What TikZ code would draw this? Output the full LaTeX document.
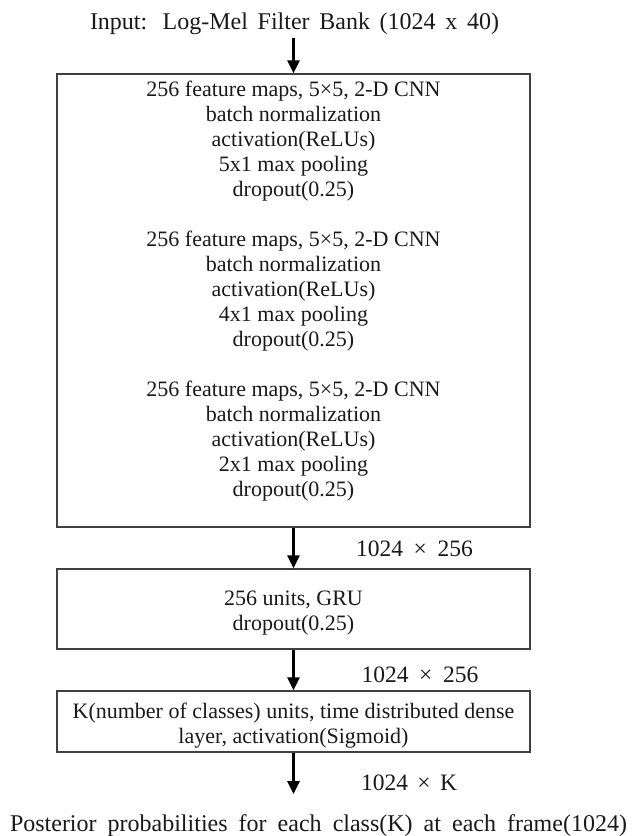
\documentclass[tikz,border=0pt]{standalone}
\usepackage{fontspec}
\setmainfont{Liberation Serif}
\usetikzlibrary{arrows.meta}
\begin{document}
\begin{tikzpicture}[x=1pt,y=-1pt,
  box/.style={draw=black!75, line width=1.5pt, minimum width=473pt, inner sep=0pt},
  txt/.style={font=\fontsize{22}{25}\selectfont, align=center, inner sep=0pt, text=black!90},
  lbl/.style={font=\fontsize{23.5}{26}\selectfont, inner sep=0pt, text=black!90},
  big/.style={font=\fontsize{24}{27}\selectfont, inner sep=0pt, text=black!90},
  flow/.style={line width=2.6pt, -{Triangle[width=12pt,length=13pt]}}]
\useasboundingbox (0,0) rectangle (635,836);

\node[big] (title) at (294.5,24) {\makebox[409pt][s]{Input: Log-Mel Filter Bank (1024 x 40)}};

\node[box, minimum height=453pt] (cnn) at (293.5,300.5) {};
\node[txt] (cnntext) at (293.5,291) {256 feature maps, 5×5, 2-D CNN\\
batch normalization\\
activation(ReLUs)\\
5x1 max pooling\\
dropout(0.25)\\[25pt]
256 feature maps, 5×5, 2-D CNN\\
batch normalization\\
activation(ReLUs)\\
4x1 max pooling\\
dropout(0.25)\\[25pt]
256 feature maps, 5×5, 2-D CNN\\
batch normalization\\
activation(ReLUs)\\
2x1 max pooling\\
dropout(0.25)};

\node[box, minimum height=80pt] (gru) at (293.5,609) {};
\node[txt] (grutext) at (293.5,613) {256 units, GRU\\dropout(0.25)};

\node[box, minimum height=61pt] (dense) at (293.5,721.5) {};
\node[txt] (densetext) at (293.5,725.5) {K(number of classes) units, time distributed dense\\layer, activation(Sigmoid)};

\node[lbl] (l1) at (414.5,549) {\makebox[117pt][s]{1024 × 256}};
\node[lbl] (l2) at (420,675) {\makebox[117pt][s]{1024 × 256}};
\node[lbl] (l3) at (409,783) {\makebox[96pt][s]{1024 × K}};

\node[big] (post) at (318.5,826) {\makebox[617pt][s]{Posterior probabilities for each class(K) at each frame(1024)}};
\coordinate (end) at (293.5,794);

\draw[flow] ([yshift=-3pt]title.south -| cnn.north) -- (cnn.north);
\draw[flow] (cnn.south) -- (gru.north);
\draw[flow] (gru.south) -- (dense.north);
\draw[flow] (dense.south) -- (end);
\end{tikzpicture}
\end{document}
